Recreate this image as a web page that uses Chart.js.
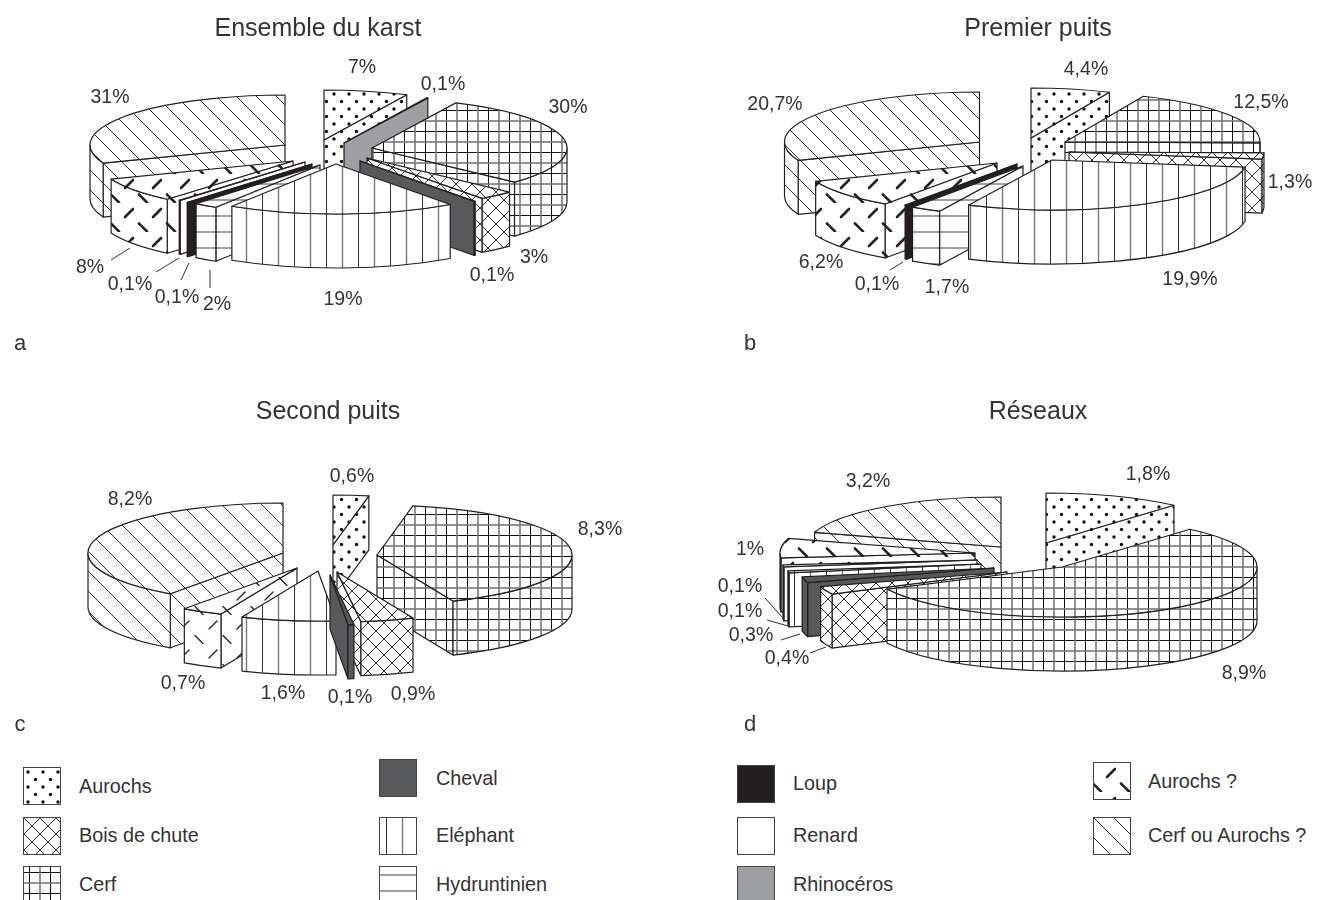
<!DOCTYPE html>
<html>
<head>
<meta charset="utf-8">
<script src="https://cdn.jsdelivr.net/npm/chart.js@4"></script>
<style>
  html, body { margin: 0; background: #fff; }
  #page { position: relative; width: 1320px; height: 900px; overflow: hidden; font-family: "Liberation Sans", Arial, sans-serif; color: #333; }
  #page canvas.pie { position: absolute; }
  .swatch { position: absolute; box-sizing: border-box; border: 1px solid #444; }
  .legtext { position: absolute; font-size: 19.8px; line-height: 24px; white-space: nowrap; }
</style>
</head>
<body>
<div id="page">
  <canvas class="pie" id="pieA" width="660" height="360" style="left:0;top:0"></canvas>
  <canvas class="pie" id="pieB" width="660" height="360" style="left:660px;top:0"></canvas>
  <canvas class="pie" id="pieC" width="660" height="360" style="left:0;top:383px"></canvas>
  <canvas class="pie" id="pieD" width="660" height="360" style="left:660px;top:383px"></canvas>
</div>
<script>
// values read from the printed percentages
var catsA = ['Aurochs', 'Rhinocéros', 'Cerf', 'Bois de chute', 'Cheval', 'Eléphant', 'Hydruntinien', 'Loup', 'Renard', 'Aurochs ?', 'Cerf ou Aurochs ?'];
var valsA = [7, 0.1, 30, 3, 0.1, 19, 2, 0.1, 0.1, 8, 31];
var catsB = ['Aurochs', 'Cerf', 'Bois de chute', 'Eléphant', 'Hydruntinien', 'Loup', 'Aurochs ?', 'Cerf ou Aurochs ?'];
var valsB = [4.4, 12.5, 1.3, 19.9, 1.7, 0.1, 6.2, 20.7];
var catsC = ['Aurochs', 'Cerf', 'Bois de chute', 'Cheval', 'Eléphant', 'Aurochs ?', 'Cerf ou Aurochs ?'];
var valsC = [0.6, 8.3, 0.9, 0.1, 1.6, 0.7, 8.2];
var catsD = ['Aurochs', 'Cerf', 'Bois de chute', 'Cheval', 'Eléphant', 'Renard', 'Aurochs ?', 'Cerf ou Aurochs ?'];
var valsD = [1.8, 8.9, 0.4, 0.3, 0.1, 0.1, 1, 3.2];

// how far each slice was pulled out of the pie (px from the chart centre)
var pullA = [[-6,-60.5],[14,-57.5],[42,-52.5],[37,-42.5],[30,-39.5],[6,-36.5],[-10,-35.5],[-18,-36.5],[-25,-38.5],[-37,-39.5],[-45,-55.5]];
var pullB = [[41,-62.5],[75,-58.5],[79,-48.5],[62,-40.5],[33,-34.5],[27,-36.5],[7,-37.5],[-10.5,-58.5]];
var pullC = [[3,-38.5],[47,-28.5],[7,-11.5],[0,-8.5],[-12,-12.5],[-33,-15.5],[-47,-30.5]];
var pullD = [[56,-40.5],[72,-16.5],[17,-11.5],[4,-15.5],[-9,-19.5],[-13,-23.5],[-15,-30.5],[11,-36.5]];

// label placement, page coordinates, same order as the values
var labelsA = [[362,68],[443,85],[568,108],[534,258],[492,276],[343,300],[217,305],[177,298],[130,285],[90,268],[110,98]];
var labelsB = [[1086,70],[1261,103],[1290,183],[1190,280],[947,288],[877,285],[821,263],[775,105]];
var labelsC = [[352,477],[600,530],[413,695],[350,698],[283,694],[183,684],[130,500]];
var labelsD = [[1148,475],[1244,674],[787,659],[751,636],[740,612],[740,587],[750,550],[868,482]];

var leadersA = [[111,260,130,248],[156,272,179,258],[181,280,189,263],[210,270,210,288]];
var leadersB = [[890,270,903,262]];
var leadersC = [];
var leadersD = [[765,598,783,618],[767,620,788,626],[781,640,800,634],[810,653,826,647]];

var RADIUS = 195, RY = 50, DEPTH = 54;
var INK = '#231f20', TEXT = '#333';

function pattern(w, h, paint) {
  var c = document.createElement('canvas');
  c.width = w; c.height = h;
  var g = c.getContext('2d');
  g.fillStyle = '#fff';
  g.fillRect(0, 0, w, h);
  paint(g);
  return g.createPattern(c, 'repeat');
}
function seg(g, x1, y1, x2, y2) {
  g.beginPath(); g.moveTo(x1, y1); g.lineTo(x2, y2); g.stroke();
}
function dashes(width) {
  return pattern(28, 29, function(g) {
    g.strokeStyle = '#222'; g.lineWidth = width; g.lineCap = 'round';
    seg(g, 13, 14, 21, 6);
    seg(g, -1, 20.5, 7, 28.5);
    seg(g, 27, 20.5, 35, 28.5);
  });
}

var fills = {
  'Aurochs': pattern(15, 15, function(g) {
    g.fillStyle = '#111';
    g.beginPath(); g.arc(4, 4, 1.7, 0, 7); g.fill();
    g.beginPath(); g.arc(11.5, 11.5, 1.7, 0, 7); g.fill();
  }),
  'Bois de chute': pattern(16, 16, function(g) {
    g.strokeStyle = '#333'; g.lineWidth = 1;
    seg(g, -1, -1, 17, 17); seg(g, -1, 17, 17, -1);
  }),
  'Cerf': pattern(21, 21, function(g) {
    g.strokeStyle = '#111'; g.lineWidth = 1;
    seg(g, 5.5, 0, 5.5, 21); seg(g, 0, 5.5, 21, 5.5);
    g.strokeStyle = '#777'; g.lineWidth = 1.6;
    seg(g, 16, 0, 16, 21); seg(g, 0, 16, 21, 16);
  }),
  'Cheval': '#58595b',
  'Eléphant': pattern(32, 4, function(g) {
    g.strokeStyle = '#333'; g.lineWidth = 1;
    seg(g, 6.5, 0, 6.5, 4);
    g.strokeStyle = '#777'; g.lineWidth = 1.4;
    seg(g, 22.5, 0, 22.5, 4);
  }),
  'Hydruntinien': pattern(4, 16, function(g) {
    g.strokeStyle = '#777'; g.lineWidth = 1.4;
    seg(g, 0, 8, 4, 8);
  }),
  'Loup': '#231f20',
  'Renard': '#ffffff',
  'Rhinocéros': '#9d9fa2',
  'Aurochs ?': dashes(2.6),
  'Cerf ou Aurochs ?': pattern(20, 20, function(g) {
    g.strokeStyle = '#333'; g.lineWidth = 1;
    seg(g, -2, -2, 22, 22); seg(g, 18, -2, 22, 2); seg(g, -2, 18, 2, 22);
  })
};
var thinDashes = dashes(1.3); // panel c prints this hatch finer

function fmt(v) {
  return String(v).replace('.', ',') + '%';
}

function paintPath(ctx, fill) {
  ctx.closePath();
  ctx.fillStyle = fill;
  ctx.fill();
  ctx.stroke();
}

// every slice gets its cut faces, outer wall and top, back slices first
function drawSlice(ctx, arc, pull) {
  var cx = arc.x + pull[0], cy = arc.y + pull[1];
  var a0 = arc.startAngle, a1 = arc.endAngle, fill = arc.options.backgroundColor;
  ctx.lineWidth = 1.2;
  ctx.strokeStyle = INK;
  ctx.lineJoin = 'round';

  [[a0, Math.cos(a0) < 0], [a1, Math.cos(a1) > 0]].forEach(function(face) {
    if (!face[1]) return;
    var ex = cx + RADIUS * Math.cos(face[0]), ey = cy + RY * Math.sin(face[0]);
    ctx.beginPath();
    ctx.moveTo(cx, cy);
    ctx.lineTo(ex, ey);
    ctx.lineTo(ex, ey + DEPTH);
    ctx.lineTo(cx, cy + DEPTH);
    paintPath(ctx, fill);
  });

  var w0 = Math.max(a0, 0), w1 = Math.min(a1, Math.PI);
  if (w1 > w0) {
    ctx.beginPath();
    ctx.ellipse(cx, cy, RADIUS, RY, 0, w0, w1);
    ctx.ellipse(cx, cy + DEPTH, RADIUS, RY, 0, w1, w0, true);
    paintPath(ctx, fill);
  }

  ctx.beginPath();
  ctx.moveTo(cx, cy);
  ctx.ellipse(cx, cy, RADIUS, RY, 0, a0, a1);
  paintPath(ctx, fill);
}

function makePie(id, cats, vals, pull, labels, leaders, origin, title, letter) {
  var plugin = {
    id: 'pie3d',
    beforeDatasetDraw: function(chart, args) {
      var ctx = chart.ctx, arcs = args.meta.data;
      var order = arcs.map(function(a, i) { return i; });
      // distance from straight-towards-the-viewer decides the painting order
      function away(i) {
        var mid = (arcs[i].startAngle + arcs[i].endAngle) / 2;
        return Math.abs(mid - Math.PI / 2);
      }
      order.sort(function(p, q) { return away(q) - away(p); });
      ctx.save();
      order.forEach(function(i) { drawSlice(ctx, arcs[i], pull[i]); });
      ctx.restore();
      return false;
    },
    afterDraw: function(chart) {
      var ctx = chart.ctx;
      ctx.save();
      ctx.fillStyle = TEXT;
      ctx.textAlign = 'center';
      ctx.textBaseline = 'middle';
      ctx.font = '19.5px "Liberation Sans", Arial, sans-serif';
      vals.forEach(function(v, i) {
        ctx.fillText(fmt(v), labels[i][0] - origin[0], labels[i][1] - origin[1]);
      });
      ctx.strokeStyle = TEXT;
      ctx.lineWidth = 1;
      leaders.forEach(function(l) {
        ctx.beginPath();
        ctx.moveTo(l[0] - origin[0], l[1] - origin[1]);
        ctx.lineTo(l[2] - origin[0], l[3] - origin[1]);
        ctx.stroke();
      });
      ctx.font = '25px "Liberation Sans", Arial, sans-serif';
      ctx.fillText(title[0], title[1] - origin[0], title[2] - origin[1]);
      ctx.font = '22px "Liberation Sans", Arial, sans-serif';
      ctx.fillText(letter[0], letter[1] - origin[0], letter[2] - origin[1]);
      ctx.restore();
    }
  };
  return new Chart(document.getElementById(id).getContext('2d'), {
    type: 'pie',
    data: {
      labels: cats,
      datasets: [{
        data: vals,
        backgroundColor: cats.map(function(c) {
          return (id === 'pieC' && c === 'Aurochs ?') ? thinDashes : fills[c];
        }),
        borderWidth: 0
      }]
    },
    options: {
      responsive: false,
      animation: false,
      radius: RADIUS,
      layout: { padding: { top: 41 } },
      events: [],
      plugins: { legend: { display: false }, tooltip: { enabled: false } }
    },
    plugins: [plugin]
  });
}

makePie('pieA', catsA, valsA, pullA, labelsA, leadersA, [0, 0], ['Ensemble du karst', 318, 29], ['a', 20, 344]);
makePie('pieB', catsB, valsB, pullB, labelsB, leadersB, [660, 0], ['Premier puits', 1038, 29], ['b', 750, 344]);
makePie('pieC', catsC, valsC, pullC, labelsC, leadersC, [0, 383], ['Second puits', 328, 412], ['c', 20, 725]);
makePie('pieD', catsD, valsD, pullD, labelsD, leadersD, [660, 383], ['Réseaux', 1038, 412], ['d', 750, 725]);

// legend
var legendNames = ['Aurochs', 'Bois de chute', 'Cerf', 'Cheval', 'Eléphant', 'Hydruntinien', 'Loup', 'Renard', 'Rhinocéros', 'Aurochs ?', 'Cerf ou Aurochs ?'];
var legendBoxes = [[23,767],[23,817],[23,866],[379,759],[379,817],[379,866],[737,765],[737,817],[737,866],[1093,762],[1093,817]];
var legendTexts = [[79,786],[79,835],[79,884],[436,778],[436,835],[436,884],[793,783],[793,835],[793,884],[1148,781],[1148,835]];

var page = document.getElementById('page');
legendNames.forEach(function(name, i) {
  var box = document.createElement('canvas');
  box.className = 'swatch';
  box.width = 36; box.height = 36;
  box.style.left = legendBoxes[i][0] + 'px';
  box.style.top = legendBoxes[i][1] + 'px';
  var g = box.getContext('2d');
  g.fillStyle = fills[name];
  g.fillRect(0, 0, 36, 36);
  page.appendChild(box);
  var t = document.createElement('div');
  t.className = 'legtext';
  t.textContent = name;
  t.style.left = legendTexts[i][0] + 'px';
  t.style.top = (legendTexts[i][1] - 12) + 'px';
  page.appendChild(t);
});
</script>
</body>
</html>
